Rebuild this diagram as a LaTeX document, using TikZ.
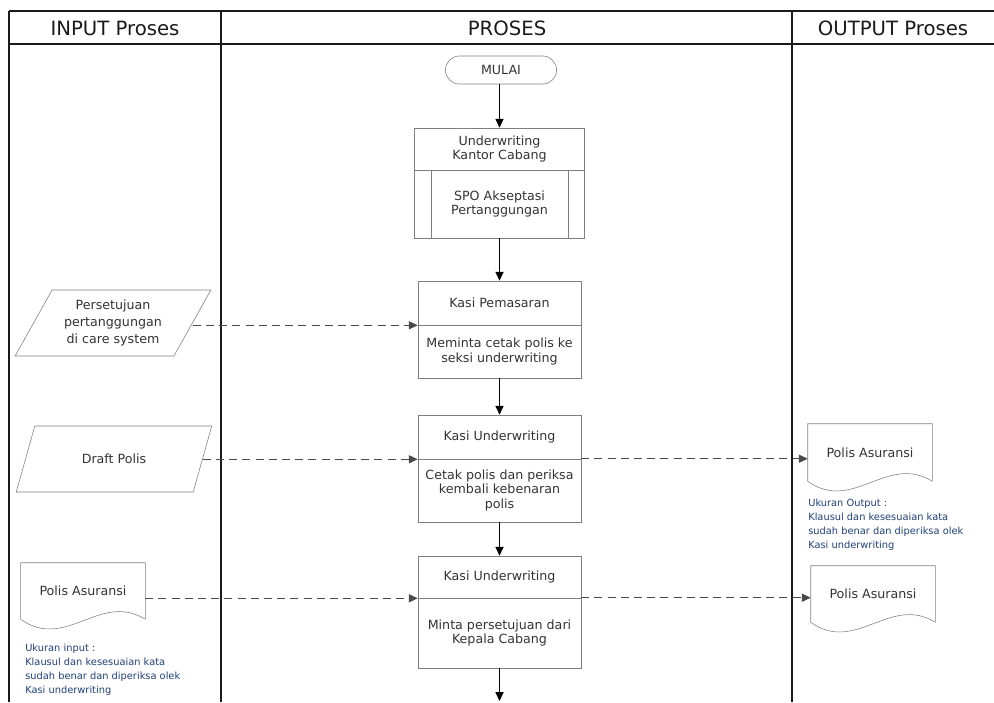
\documentclass[tikz,border=0pt]{standalone}
\usepackage{fontspec}
\setmainfont{DejaVu Sans}
\usepackage{tikz}
\usetikzlibrary{arrows.meta,positioning,shapes.misc,shapes.geometric}
\definecolor{laneInk}{HTML}{1A1A1A}
\definecolor{boxGray}{HTML}{7F7F7F}
\definecolor{dashInk}{HTML}{4A4A4A}
\definecolor{txtInk}{HTML}{333333}
\definecolor{noteBlue}{HTML}{1F3F77}

\begin{document}
\begin{tikzpicture}[x=0.25mm,y=-0.25mm,>={Triangle[length=2.2mm,width=2mm]},
  font=\fontsize{9}{10.5}\selectfont, text=txtInk,
  lanehead/.style={font=\fontsize{14}{16}\selectfont,text=laneInk},
  term/.style={draw=boxGray,rounded rectangle,minimum width=28.5mm,minimum height=7mm,inner sep=1pt},
  part/.style={draw=boxGray,minimum width=40.75mm,align=center,inner sep=1pt},
  io/.style={draw=boxGray,trapezium,trapezium left angle=58,trapezium right angle=122,
    trapezium stretches=true,minimum width=49mm,minimum height=16.5mm,align=center,inner sep=1pt,
    font=\fontsize{9}{12}\selectfont},
  doc/.style={minimum width=31mm,align=center,inner sep=1pt},
  flow/.style={->,line width=0.8pt},
  feed/.style={->,line width=0.75pt,dash pattern=on 2mm off 1.3mm,draw=dashInk},
  note/.style={text=noteBlue,font=\fontsize{7}{9.9}\selectfont,align=left,anchor=north west,inner sep=0pt}]
\useasboundingbox (0,0) rectangle (994,702);
% swimlanes
\draw[laneInk,line width=1pt] (9,11) -- (994,11) (9,44) -- (994,44);
\draw[laneInk,line width=1pt] (9,11) -- (9,702) (221,11) -- (221,702) (792,11) -- (792,702);
\node[lanehead] (hin) at (115,28) {INPUT Proses};
\node[lanehead] (hpro) at (507,28) {PROSES};
\node[lanehead] (hout) at (893,28) {OUTPUT Proses};
% process column
\node[term] (mulai) at (501,70) {MULAI};
\node[part,minimum width=42.5mm,minimum height=10.5mm] (uw) at (499.5,149) {Underwriting\\Kantor Cabang};
\node[part,minimum width=42.5mm,minimum height=17mm] (spo) at (499.5,204) {SPO Akseptasi\\Pertanggungan};
\draw[boxGray] ([xshift=4.25mm]spo.north west) -- ([xshift=4.25mm]spo.south west);
\draw[boxGray] ([xshift=-4.25mm]spo.north east) -- ([xshift=-4.25mm]spo.south east);
\node[part,minimum height=11mm] (kp) at (499.5,303) {Kasi Pemasaran};
\node[part,minimum height=13.25mm] (kpb) at (499.5,351.5) {Meminta cetak polis ke\\seksi underwriting};
\node[part,minimum height=11mm] (ku) at (499.5,437) {Kasi Underwriting};
\node[part,minimum height=15.75mm] (kub) at (499.5,490.5) {Cetak polis dan periksa\\kembali kebenaran\\polis};
\node[part,minimum height=10.5mm] (ku2) at (499.5,577) {Kasi Underwriting};
\node[part,minimum height=17.5mm] (ku2b) at (499.5,633) {Minta persetujuan dari\\Kepala Cabang};
\coordinate (nextstep) at (499.5,701);
% input column
\node[io] (io1) at (113,323) {Persetujuan\\pertanggungan\\di care system};
\node[io] (io2) at (114,459) {Draft Polis};
\node[doc,minimum height=14mm] (pin) at (83,591) {Polis Asuransi};
\draw[boxGray] (pin.south east) -- (pin.north east) -- (pin.north west) -- (pin.south west)
  .. controls +(45,32) and +(-45,-28) .. (pin.south east);
\node[note] (notein) at (25,644) {Ukuran input :\\Klausul dan kesesuaian kata\\sudah benar dan diperiksa olek\\Kasi underwriting};
% output column
\node[doc,minimum height=14.25mm] (pout1) at (870,452.5) {Polis Asuransi};
\draw[boxGray] (pout1.south east) -- (pout1.north east) -- (pout1.north west) -- (pout1.south west)
  .. controls +(45,32) and +(-45,-28) .. (pout1.south east);
\node[note] (noteout) at (808,499) {Ukuran Output :\\Klausul dan kesesuaian kata\\sudah benar dan diperiksa olek\\Kasi underwriting};
\node[doc,minimum height=14mm] (pout2) at (873,594) {Polis Asuransi};
\draw[boxGray] (pout2.south east) -- (pout2.north east) -- (pout2.north west) -- (pout2.south west)
  .. controls +(45,32) and +(-45,-28) .. (pout2.south east);
% flow
\draw[flow] (mulai.south -| uw.north) -- (uw);
\draw[flow] (spo) -- (kp);
\draw[flow] (kpb) -- (ku);
\draw[flow] (kub) -- (ku2);
\draw[flow] (ku2b) -- (nextstep);
\draw[feed] (kp.south west -| io1.east) -- (kp.south west);
\draw[feed] (ku.south west -| io2.east) -- (ku.south west);
\draw[feed] (ku2.south west -| pin.east) -- (ku2.south west);
\draw[feed] (kub.north east) -- (kub.north east -| pout1.west);
\draw[feed] (ku2b.north east) -- (ku2b.north east -| pout2.west);
\end{tikzpicture}
\end{document}
